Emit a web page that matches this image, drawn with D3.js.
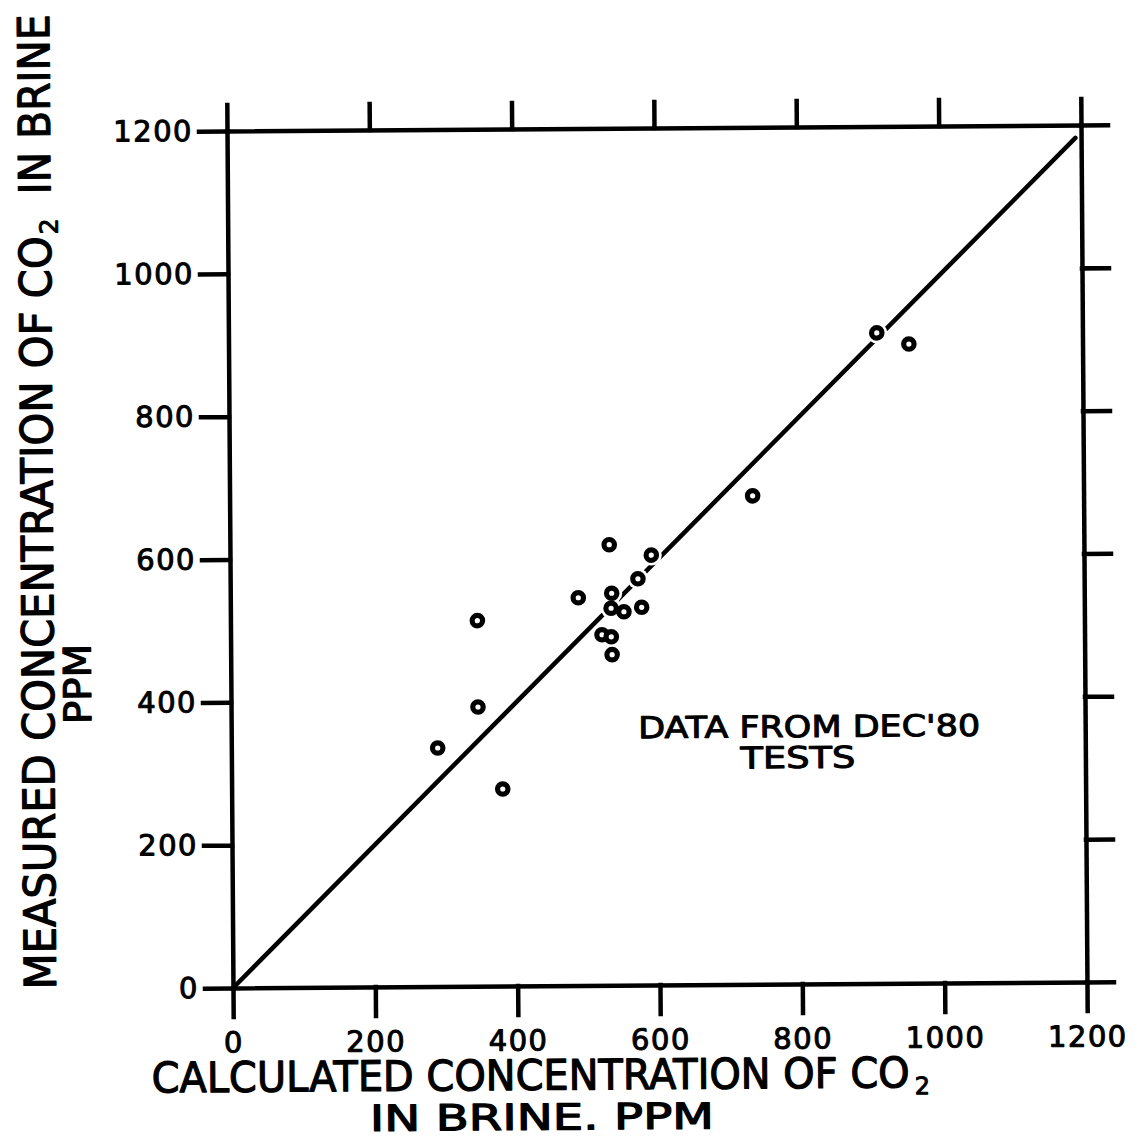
<!DOCTYPE html>
<html>
<head>
<meta charset="utf-8">
<script src="https://cdn.jsdelivr.net/npm/d3@7"></script>
<style>
  body { margin: 0; background: #fff; }
  svg text { font-family: "DejaVu Sans", sans-serif; fill: #000; stroke: #000; stroke-linejoin: round; }
</style>
</head>
<body>
<svg id="chart" width="1142" height="1138"></svg>
<script>
// CO2 in brine, Dec '80 tests: calculated vs measured concentration (ppm)
const calculated = [911, 956, 735, 533, 592, 573, 536, 489, 535, 553, 578, 347, 522, 535, 536, 347, 290, 381];
const measured   = [911, 895, 684, 617, 602, 569, 549, 543, 528, 523, 529, 512, 491, 488, 463, 391, 334, 276];

// hand-fitted agreement line (endpoints, ppm)
const lineCalc = [0, 1192];
const lineMeas = [0, 1182];

const tickValues = [0, 200, 400, 600, 800, 1000, 1200];
const tickLabels = ["0", "200", "400", "600", "800", "1000", "1200"];

const W = 1142, H = 1138;
const svg = d3.select("#chart");
svg.append("rect").attr("width", W).attr("height", H).attr("fill", "#fff");

// the whole sheet sits very slightly tilted
const g = svg.append("g").attr("transform", "rotate(-0.4 658 558)");

const x = d3.scaleLinear().domain([0, 1200]).range([230, 1084]);
const y = d3.scaleLinear().domain([0, 1200]).range([985, 128]);

const fmt = (d) => tickLabels[tickValues.indexOf(d)];

function inkAxis(sel) {
  sel.attr("color", "#000");
  sel.selectAll("path.domain, .tick line")
    .attr("stroke", "#000")
    .attr("stroke-width", 4.5)
    .attr("stroke-linecap", "square");
  sel.selectAll(".tick text")
    .attr("font-family", "DejaVu Sans, sans-serif")
    .attr("font-size", 29)
    .attr("letter-spacing", 1.5)
    .attr("fill", "#000")
    .attr("stroke", "#000")
    .attr("stroke-width", 1);
}

// frame: ticks point outward on all four sides
g.append("g").attr("transform", `translate(0,${y(0)})`)
  .call(d3.axisBottom(x).tickValues(tickValues).tickFormat(fmt)
    .tickSize(29).tickSizeOuter(0).tickPadding(15))
  .call(inkAxis);

g.append("g").attr("transform", `translate(${x(0)},0)`)
  .call(d3.axisLeft(y).tickValues(tickValues).tickFormat(fmt)
    .tickSize(28).tickSizeOuter(0).tickPadding(6))
  .call(inkAxis);

g.append("g").attr("transform", `translate(0,${y(1200)})`)
  .call(d3.axisTop(x).tickValues(tickValues).tickFormat("")
    .tickSize(26).tickSizeOuter(0))
  .call(inkAxis);

g.append("g").attr("transform", `translate(${x(1200)},0)`)
  .call(d3.axisRight(y).tickValues(tickValues).tickFormat("")
    .tickSize(27).tickSizeOuter(0))
  .call(inkAxis);

// agreement line
const linePts = lineCalc.map((c, i) => [c, lineMeas[i]]);
g.append("path")
  .datum(linePts)
  .attr("d", d3.line().x(d => x(d[0])).y(d => y(d[1])))
  .attr("fill", "none")
  .attr("stroke", "#000")
  .attr("stroke-width", 4.5)
  .attr("stroke-linecap", "round");

const pts = calculated.map((c, i) => ({ c, m: measured[i] }));

// small clearing round each point where the line is broken
g.append("g").selectAll("circle").data(pts).join("circle")
  .attr("cx", d => x(d.c)).attr("cy", d => y(d.m))
  .attr("r", 10.5).attr("fill", "#fff");

// data points: heavy open circles
g.append("g").selectAll("circle").data(pts).join("circle")
  .attr("cx", d => x(d.c)).attr("cy", d => y(d.m))
  .attr("r", 5.2)
  .attr("fill", "#fff")
  .attr("stroke", "#000")
  .attr("stroke-width", 5.2);

// x-axis title
g.append("text")
  .attr("x", 148).attr("y", 1089)
  .attr("font-size", 42)
  .attr("stroke-width", 1.2)
  .attr("textLength", 758).attr("lengthAdjust", "spacingAndGlyphs")
  .text("CALCULATED CONCENTRATION OF CO");
g.append("text")
  .attr("x", 911).attr("y", 1096)
  .attr("font-size", 24)
  .attr("stroke-width", 1)
  .text("2");
g.append("text")
  .attr("x", 366).attr("y", 1129)
  .attr("font-size", 36)
  .attr("stroke-width", 1.2)
  .attr("textLength", 344).attr("lengthAdjust", "spacingAndGlyphs")
  .text("IN BRINE.  PPM");

// y-axis title (reads bottom to top)
g.append("text")
  .attr("transform", "rotate(-90)")
  .attr("x", -985).attr("y", 53)
  .attr("font-size", 44)
  .attr("stroke-width", 1.2)
  .attr("textLength", 753).attr("lengthAdjust", "spacingAndGlyphs")
  .text("MEASURED CONCENTRATION OF CO");
g.append("text")
  .attr("transform", "rotate(-90)")
  .attr("x", -230).attr("y", 60)
  .attr("font-size", 25)
  .attr("stroke-width", 1)
  .text("2");
g.append("text")
  .attr("transform", "rotate(-90)")
  .attr("x", -190).attr("y", 53)
  .attr("font-size", 44)
  .attr("stroke-width", 1.2)
  .attr("textLength", 180).attr("lengthAdjust", "spacingAndGlyphs")
  .text("IN  BRINE");
g.append("text")
  .attr("transform", "rotate(-90)")
  .attr("x", -720).attr("y", 90)
  .attr("font-size", 38)
  .attr("stroke-width", 1.2)
  .attr("textLength", 80).attr("lengthAdjust", "spacingAndGlyphs")
  .text("PPM");

// note
g.append("text")
  .attr("x", 637).attr("y", 738)
  .attr("font-size", 30)
  .attr("stroke-width", 1)
  .attr("textLength", 342).attr("lengthAdjust", "spacingAndGlyphs")
  .text("DATA FROM DEC'80");
g.append("text")
  .attr("x", 739).attr("y", 769)
  .attr("font-size", 30)
  .attr("stroke-width", 1)
  .attr("textLength", 115).attr("lengthAdjust", "spacingAndGlyphs")
  .text("TESTS");
</script>
</body>
</html>
